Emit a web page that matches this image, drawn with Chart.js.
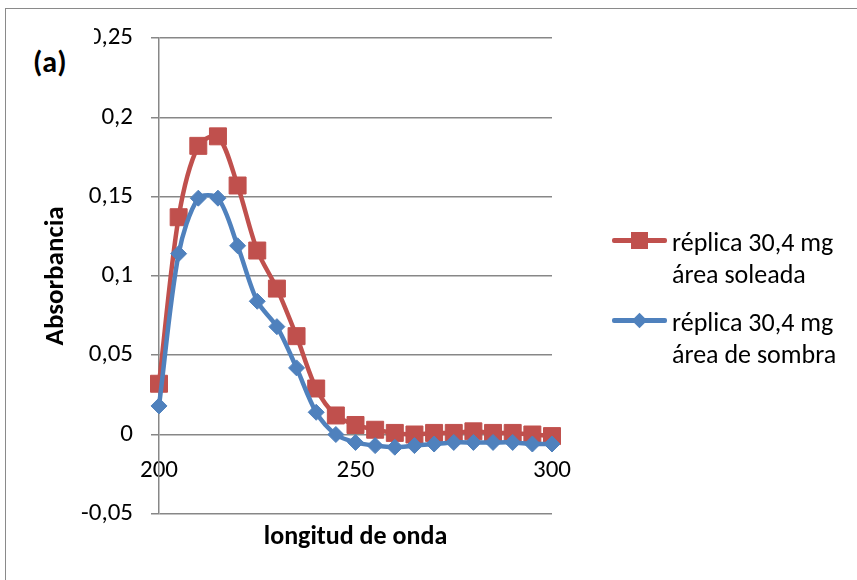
<!DOCTYPE html>
<html>
<head>
<meta charset="utf-8">
<script src="https://cdn.jsdelivr.net/npm/chart.js@4.4.1/dist/chart.umd.min.js"></script>
<style>
  html, body { margin: 0; padding: 0; background: #fff; overflow: hidden; }
  body { width: 857px; height: 580px; position: relative; font-family: Carlito, Lato, sans-serif; }
  #marco { position: absolute; left: 5px; top: 8px; width: 900px; height: 640px; border: 1.5px solid #8a8a8a; box-sizing: border-box; }
  #grafico-wrap { position: absolute; left: 0; top: 0; width: 857px; height: 580px; }
  #panel { position: absolute; left: 22px; top: 20px; width: 72px; height: 60px; background: #fff;
           font-weight: bold; font-size: 30px; line-height: 42px; padding: 21px 0 0 11px; box-sizing: border-box; }
  .item { position: absolute; left: 612px; }
  .linea { position: absolute; left: 0; width: 55px; height: 4.5px; border-radius: 2px; }
  .marca { position: absolute; }
  .texto { position: absolute; left: 60px; font-size: 26px; line-height: 32px; white-space: nowrap; color: #000; }
</style>
</head>
<body>
<div id="marco"></div>
<div id="grafico-wrap"><canvas id="grafico"></canvas></div>
<div id="panel">(a)</div>

<div class="item" style="top:226px">
  <div class="linea" style="top:12px;background:#C0504D"></div>
  <div class="marca" style="left:19px;top:6px;width:17px;height:17px;background:#C0504D"></div>
  <div class="texto" style="top:0">réplica 30,4 mg<br>área soleada</div>
</div>
<div class="item" style="top:306px">
  <div class="linea" style="top:12px;background:#4F81BD"></div>
  <div class="marca" style="left:22px;top:9px;width:11px;height:11px;background:#4F81BD;transform:rotate(45deg)"></div>
  <div class="texto" style="top:0">réplica 30,4 mg<br>área de sombra</div>
</div>

<script>
// longitud de onda (nm) y absorbancia de cada réplica
const longitudOnda = [200, 205, 210, 215, 220, 225, 230, 235, 240, 245, 250,
                      255, 260, 265, 270, 275, 280, 285, 290, 295, 300];
const areaSoleada = [0.032, 0.137, 0.182, 0.188, 0.157, 0.116, 0.092, 0.062, 0.029, 0.012, 0.006,
                     0.003, 0.001, 0.000, 0.001, 0.001, 0.002, 0.001, 0.001, 0.000, -0.001];
const areaSombra = [0.018, 0.114, 0.149, 0.149, 0.119, 0.084, 0.068, 0.042, 0.014, 0.000, -0.005,
                    -0.007, -0.008, -0.007, -0.006, -0.005, -0.005, -0.005, -0.005, -0.006, -0.006];

const FUENTE = 'Carlito, Lato, sans-serif';
const GRIS = '#878787';

function puntos(valores) {
    return longitudOnda.map((x, i) => ({ x: x, y: valores[i] }));
}

// formato con coma decimal: 0,25  0,2  -0,05
function formatoComa(v) {
    const r = Math.round(v * 100) / 100;
    return String(r).replace('.', ',');
}

const ctx = document.getElementById('grafico').getContext('2d');

new Chart(ctx, {
    type: 'line',
    data: {
        datasets: [
            {
                label: 'réplica 30,4 mg área de sombra',
                data: puntos(areaSombra),
                borderColor: '#4F81BD',
                backgroundColor: '#4F81BD',
                borderWidth: 4.5,
                pointStyle: 'rectRot',
                pointRadius: 8,
                pointHoverRadius: 8,
                pointBorderWidth: 1,
                tension: 0.3,
                clip: false
            },
            {
                label: 'réplica 30,4 mg área soleada',
                data: puntos(areaSoleada),
                borderColor: '#C0504D',
                backgroundColor: '#C0504D',
                borderWidth: 4.5,
                pointStyle: 'rect',
                pointRadius: 12,
                pointHoverRadius: 12,
                pointBorderWidth: 1,
                tension: 0.3,
                clip: false
            }
        ]
    },
    options: {
        responsive: true,
        maintainAspectRatio: false,
        animation: false,
        events: [],
        layout: { padding: { left: 0, top: 38, right: 305, bottom: 27 } },
        plugins: { legend: { display: false }, tooltip: { enabled: false } },
        scales: {
            x: {
                type: 'linear',
                position: { y: 0 },
                min: 200,
                max: 300,
                ticks: { stepSize: 50, padding: 21, color: '#000', font: { family: FUENTE, size: 25 } },
                grid: { display: false, drawTicks: false },
                border: { display: false }
            },
            xTitulo: {
                type: 'linear',
                position: 'bottom',
                ticks: { display: false },
                grid: { display: false, drawTicks: false },
                border: { display: false },
                title: {
                    display: true,
                    text: 'longitud de onda',
                    color: '#000',
                    font: { family: FUENTE, size: 26, weight: 'bold' },
                    padding: { top: 8, bottom: 0 }
                }
            },
            y: {
                min: -0.05,
                max: 0.25,
                afterFit: (scale) => { scale.width = 159; },
                ticks: {
                    stepSize: 0.05,
                    padding: 18,
                    color: '#000',
                    font: { family: FUENTE, size: 25 },
                    callback: (v) => formatoComa(v)
                },
                grid: { color: GRIS, lineWidth: 1.5, tickLength: 8 },
                border: { color: GRIS, width: 1.5 },
                title: {
                    display: true,
                    text: 'Absorbancia',
                    color: '#000',
                    font: { family: FUENTE, size: 27, weight: 'bold' },
                    padding: { top: 40, bottom: 0 }
                }
            }
        }
    }
});
</script>
</body>
</html>
